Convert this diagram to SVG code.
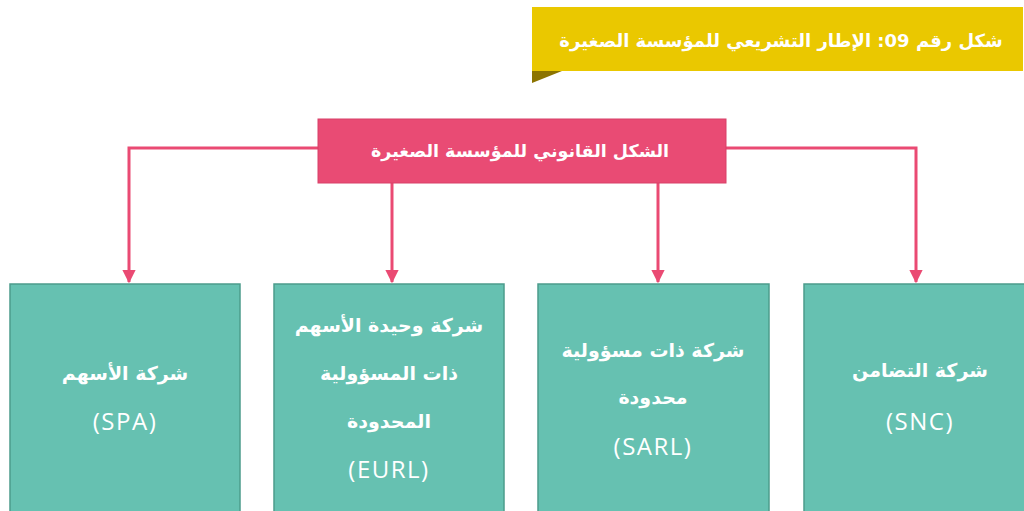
<svg xmlns="http://www.w3.org/2000/svg" width="1024" height="511" viewBox="0 0 1024 511">
  <defs>
    <style>
      .ar { font-family: "DejaVu Sans", "Noto Sans", sans-serif; font-weight: bold; fill: #ffffff; text-anchor: middle; dominant-baseline: central; direction: rtl; unicode-bidi: embed; }
      .lat { font-family: "Open Sans", "DejaVu Sans", sans-serif; fill: #ffffff; text-anchor: middle; dominant-baseline: central; font-size: 24px; letter-spacing: 1.5px; }
      .box { fill: #66c1b1; stroke: #4c9c8c; stroke-width: 1.5; }
      .edge { fill: none; stroke: #ea4a73; stroke-width: 3; }
    </style>
    <marker id="arrow" viewBox="0 0 10 10" refX="9" refY="5" markerWidth="4.4" markerHeight="4.4" orient="auto" markerUnits="strokeWidth">
      <path d="M0,0 L10,5 L0,10 Z" fill="#ea4a73"/>
    </marker>
  </defs>

  <rect width="1024" height="511" fill="#ffffff"/>

  <!-- caption banner with folded corner -->
  <g id="caption">
    <polygon points="532,71 562,71 532,83" fill="#8c7400"/>
    <rect x="532" y="7" width="491" height="64" fill="#eac800"/>
    <text class="ar" x="781" y="40" font-size="18">شكل رقم 09: الإطار التشريعي للمؤسسة الصغيرة</text>
  </g>

  <!-- connectors -->
  <g id="connectors">
    <polyline class="edge" points="318,148 129,148 129,282" marker-end="url(#arrow)"/>
    <polyline class="edge" points="726,148 916,148 916,282" marker-end="url(#arrow)"/>
    <line class="edge" x1="392" y1="183" x2="392" y2="282" marker-end="url(#arrow)"/>
    <line class="edge" x1="658" y1="183" x2="658" y2="282" marker-end="url(#arrow)"/>
  </g>

  <!-- root node -->
  <g id="root">
    <rect x="318" y="119" width="408" height="64" fill="#e94b74" stroke="#d84068" stroke-width="1"/>
    <text class="ar" x="520" y="151" font-size="17.5">الشكل القانوني للمؤسسة الصغيرة</text>
  </g>

  <g id="spa">
    <rect class="box" x="10" y="284" width="230" height="240"/>
    <text class="ar" x="125" y="373" font-size="19">شركة الأسهم</text>
    <text class="lat" x="125" y="420">(SPA)</text>
  </g>

  <g id="eurl">
    <rect class="box" x="274" y="284" width="230" height="240"/>
    <text class="ar" x="389" y="325" font-size="19">شركة وحيدة الأسهم</text>
    <text class="ar" x="389" y="373" font-size="19">ذات المسؤولية</text>
    <text class="ar" x="389" y="421" font-size="19">المحدودة</text>
    <text class="lat" x="389" y="468">(EURL)</text>
  </g>

  <g id="sarl">
    <rect class="box" x="538" y="284" width="231" height="240"/>
    <text class="ar" x="653" y="350" font-size="19">شركة ذات مسؤولية</text>
    <text class="ar" x="653" y="397" font-size="19">محدودة</text>
    <text class="lat" x="653" y="445">(SARL)</text>
  </g>

  <g id="snc">
    <rect class="box" x="804" y="284" width="231" height="240"/>
    <text class="ar" x="920" y="370" font-size="19">شركة التضامن</text>
    <text class="lat" x="920" y="420">(SNC)</text>
  </g>
</svg>
